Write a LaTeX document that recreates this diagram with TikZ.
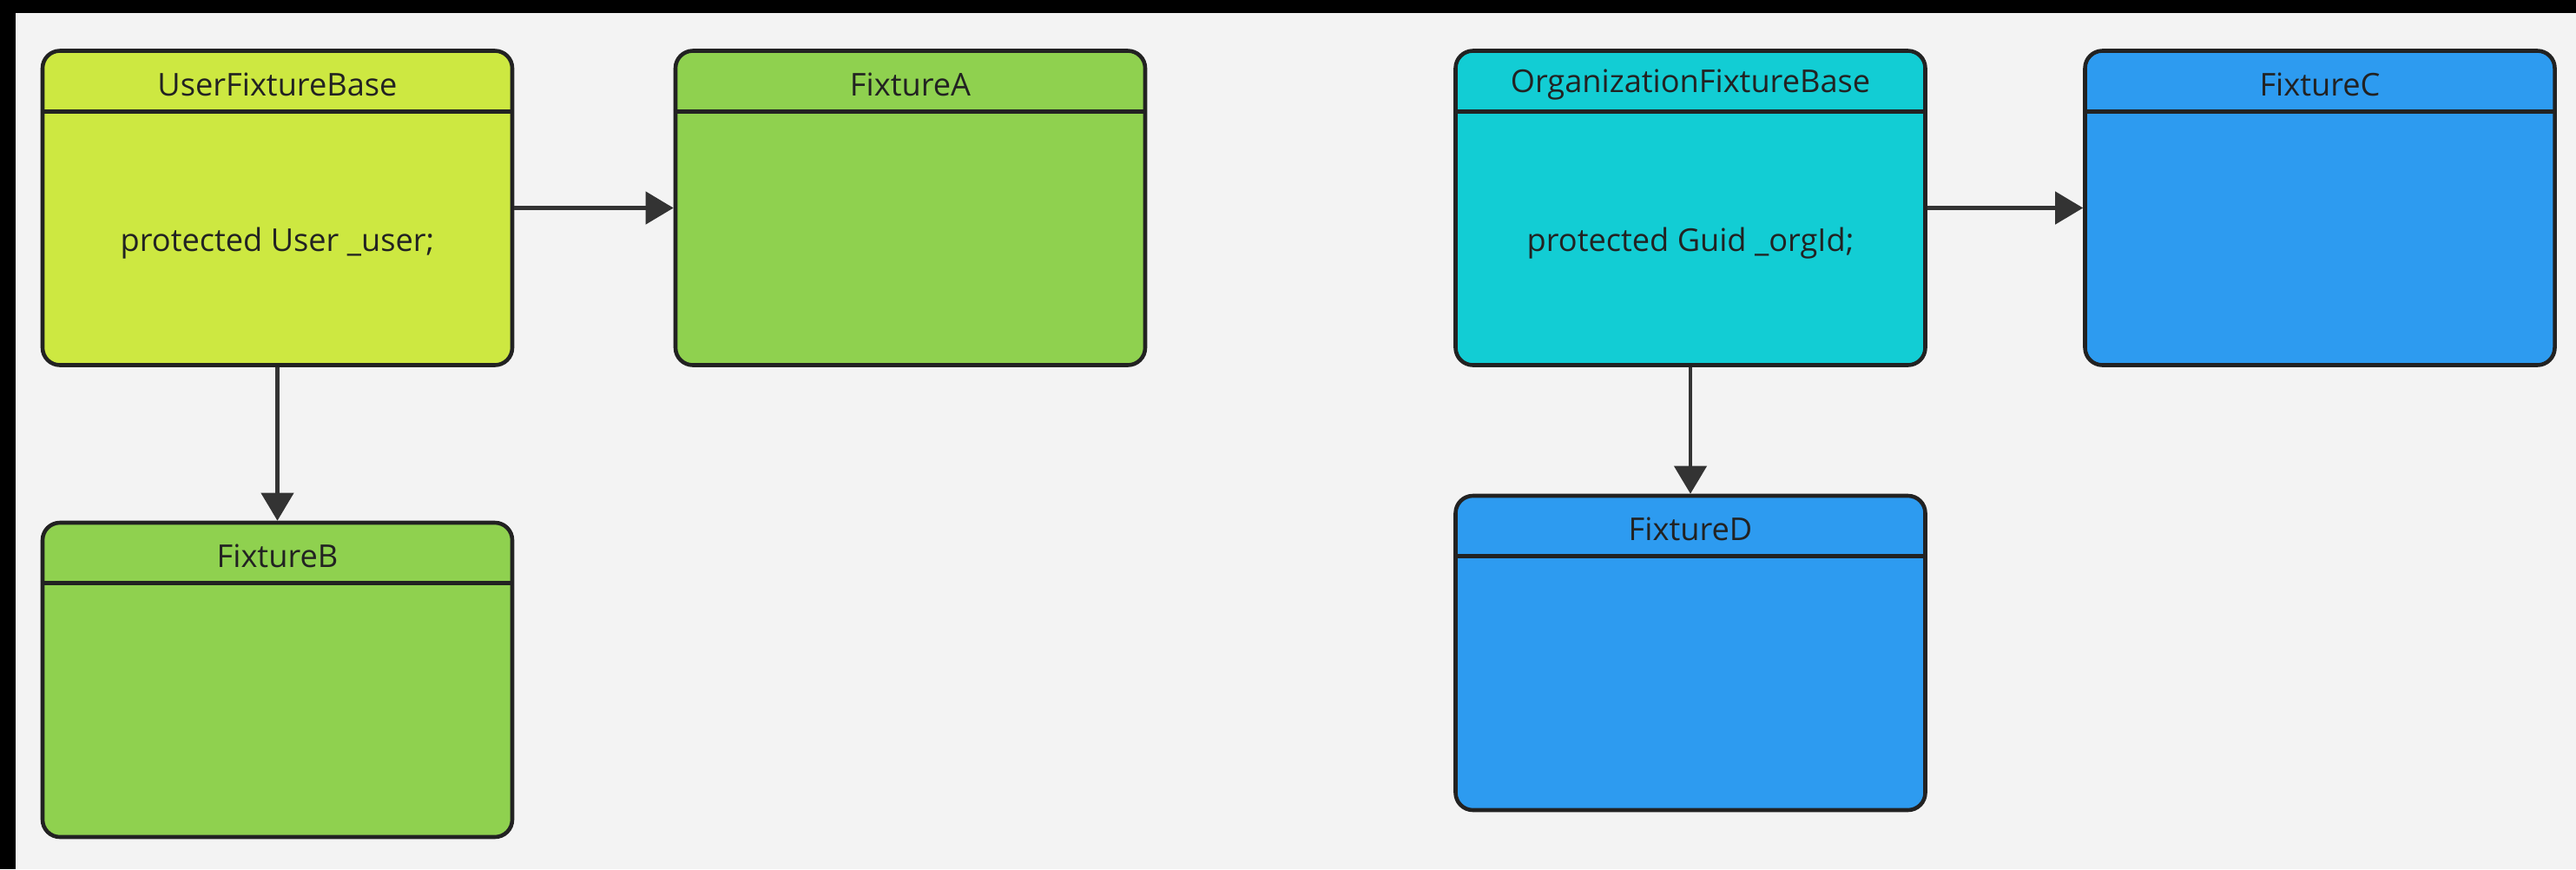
\documentclass[tikz,border=0pt]{standalone}
\usepackage{fontspec}
\setmainfont{Open Sans}
\usepackage{tikz}
\usetikzlibrary{arrows.meta}

\definecolor{canvas}{HTML}{F3F3F3}
\definecolor{edge}{HTML}{222222}
\definecolor{wire}{HTML}{333333}
\definecolor{lime}{HTML}{CDE841}
\definecolor{leaf}{HTML}{8FD14F}
\definecolor{teal}{HTML}{12CDD4}
\definecolor{sky}{HTML}{2D9BF0}

\tikzset{
  classbox/.style={draw=edge, line width=1.3pt, rounded corners=0.2cm,
    minimum width=5.41cm, minimum height=3.62cm, inner sep=0pt},
  classtitle/.style={text=edge, font=\fontsize{10.3}{12}\selectfont},
  inherits/.style={draw=wire, line width=1.25pt,
    -{Triangle[length=3.2mm,width=3.7mm]}}
}

\begin{document}
\begin{tikzpicture}
    % canvas with the dark strips along top and left
    \fill[canvas] (0,0) rectangle (29.67,-10.01);
    \fill[black] (0,0) rectangle (29.67,-0.15);
    \fill[black] (0,0) rectangle (0.18,-10.01);
    \useasboundingbox (0,0) rectangle (29.67,-10.01);

    % class boxes
    \node[classbox, fill=lime] (userbase) at (3.195,-2.395) {};
    \node[classbox, fill=leaf] (fixa) at (10.485,-2.395) {};
    \node[classbox, fill=leaf] (fixb) at (3.195,-7.83) {};
    \node[classbox, fill=teal] (orgbase) at (19.47,-2.395) {};
    \node[classbox, fill=sky] (fixc) at (26.72,-2.395) {};
    \node[classbox, fill=sky] (fixd) at (19.47,-7.52) {};

    % header rule and title of every box
    \foreach \b/\t in {userbase/UserFixtureBase, fixa/FixtureA, fixb/FixtureB,
                       orgbase/OrganizationFixtureBase, fixc/FixtureC, fixd/FixtureD} {
        \draw[edge, line width=1.3pt] ([yshift=-0.72cm]\b.north west) -- ([yshift=-0.72cm]\b.north east);
        \node[classtitle] (\b-title) at ([yshift=-0.41cm]\b.north) {\t};
    }

    % fields
    \node[classtitle] (userbase-field) at ([yshift=-0.41cm]userbase.center) {protected User \_user;};
    \node[classtitle] (orgbase-field) at ([yshift=-0.41cm]orgbase.center) {protected Guid \_orgId;};

    % inheritance arrows
    \draw[inherits] (userbase.east) -- (fixa.west);
    \draw[inherits] (userbase.south) -- (fixb.north);
    \draw[inherits] (orgbase.east) -- (fixc.west);
    \draw[inherits] (orgbase.south) -- (fixd.north);
\end{tikzpicture}
\end{document}
